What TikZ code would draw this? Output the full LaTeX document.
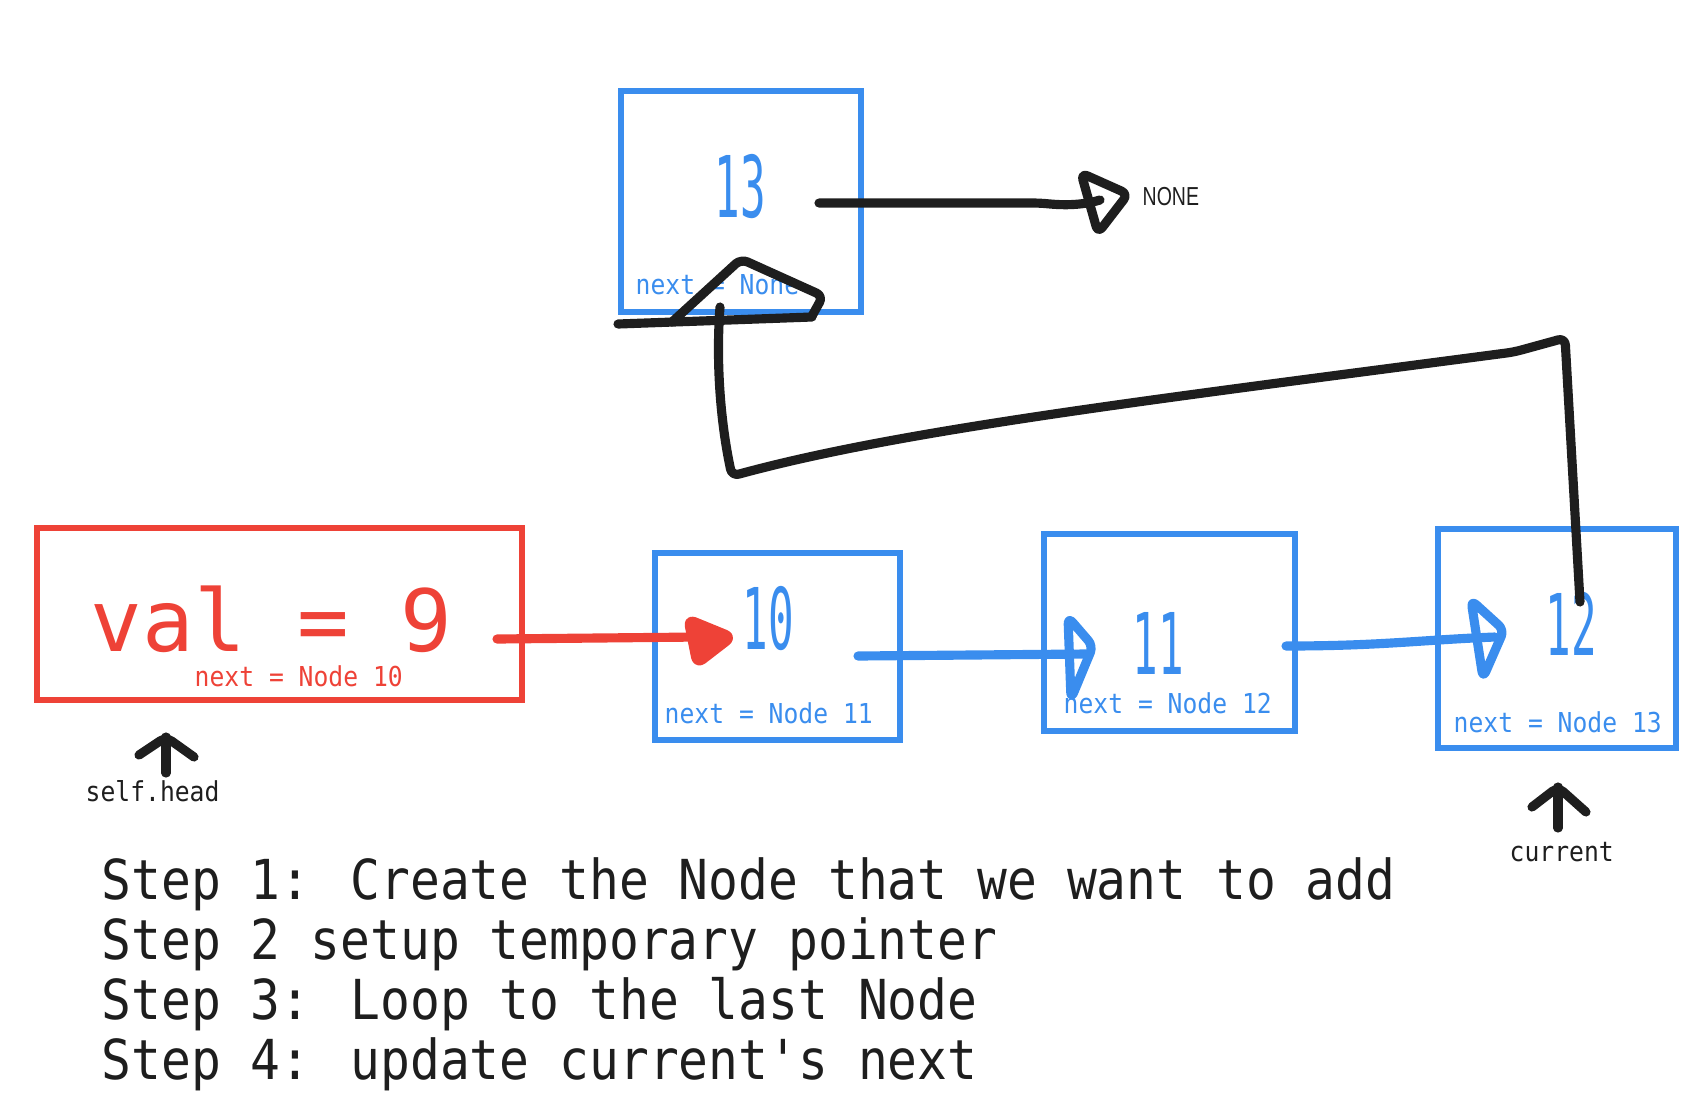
\documentclass[tikz,border=0pt]{standalone}
\usepackage{fontspec}
\usetikzlibrary{positioning, calc}
\newfontfamily\monofont[FakeStretch=0.9]{DejaVu Sans Mono}
\newfontfamily\digitfont[FakeStretch=0.5]{DejaVu Sans Mono}
\newfontfamily\valfont{DejaVu Sans Mono}
\newfontfamily\tagfont[FakeStretch=0.75]{Liberation Sans}
\definecolor{nodeblue}{HTML}{3A8DEE}
\definecolor{newred}{HTML}{EE4237}
\definecolor{ink}{HTML}{1E1E1E}

\tikzset{
  listbox/.style={draw=nodeblue, line width=1.6pt, inner sep=0pt},
  headbox/.style={draw=newred, line width=1.6pt, inner sep=0pt},
  digit/.style={text=nodeblue, inner sep=0pt, font=\fontsize{24.2}{28}\digitfont},
  nextlabel/.style={anchor=base west, inner sep=0pt, font=\fontsize{7.8}{9}\monofont},
  stroke/.style={line width=2.6pt, line cap=round, line join=round, rounded corners=2pt}
}

\begin{document}
\begin{tikzpicture}[x=0.01cm, y=-0.01cm]
  \useasboundingbox (0,0) rectangle (1708,1102);

  % the boxes
  \node[headbox, minimum width=4.85cm, minimum height=1.72cm] (node9) at (279.5,614) {};
  \node[listbox, minimum width=2.45cm, minimum height=1.87cm] (node10) at (777.5,646.5) {};
  \node[listbox, minimum width=2.51cm, minimum height=1.97cm] (node11) at (1169.5,632.5) {};
  \node[listbox, minimum width=2.38cm, minimum height=2.19cm] (node12) at (1557,638.5) {};
  \node[listbox, minimum width=2.40cm, minimum height=2.21cm] (node13) at (741,201.5) {};

  % values and next pointers
  \node[anchor=base west, inner sep=0pt, text=newred, font=\fontsize{24.4}{30}\valfont] (val9) at (90,651) {val = 9};
  \node[nextlabel, text=newred] (next9) at (194,686) {next = Node 10};
  \node[digit] (val10) at (768,619) {10};
  \node[nextlabel, text=nodeblue] (next10) at (664,723) {next = Node 11};
  \node[digit] (val11) at (1158,643) {11};
  \node[nextlabel, text=nodeblue] (next11) at (1063,713) {next = Node 12};
  \node[digit] (val12) at (1571,624) {12};
  \node[nextlabel, text=nodeblue] (next12) at (1453,732) {next = Node 13};
  \node[digit] (val13) at (740,187) {13};
  \node[nextlabel, text=nodeblue] (next13) at (635,294) {next = None};
  \node[anchor=west, inner sep=0pt, text=ink, font=\fontsize{7.4}{9}\tagfont] (none) at (1142,197) {NONE};

  % pointers
  \node[nextlabel, text=ink] (selfhead) at (85,801) {self.head};
  \node[nextlabel, text=ink] (current) at (1509,861) {current};
  \coordinate (headtip) at (166,737);
  \coordinate (currtip) at (1558,787);
  \draw[stroke, ink] (166,773) -- (headtip);
  \draw[stroke, ink] (139,755) -- (headtip) -- (194,757);
  \draw[stroke, ink] (1558,828) -- (currtip);
  \draw[stroke, ink] (1532,807) -- (currtip) -- (1586,812);

  % next links
  \coordinate (from9) at (497,639);
  \coordinate (tip9) at (732,637);
  \draw[stroke, newred] (from9) -- (700,637);
  \filldraw[stroke, newred] (tip9) -- ++(-44,-18) -- ++(9,45) -- cycle;

  \coordinate (from10) at (858,656);
  \coordinate (tip10) at (1093,646);
  \draw[stroke, nodeblue] (from10) -- (1086,654);
  \draw[stroke, nodeblue] (tip10) -- ++(-25,-29) -- ++(3,82) -- cycle;

  \coordinate (from11) at (1286,646);
  \coordinate (tip11) at (1504,630);
  \draw[stroke, nodeblue] (from11) .. controls (1380,646) and (1420,640) .. (1495,637);
  \draw[stroke, nodeblue] (tip11) -- ++(-33,-30) -- ++(12,78) -- cycle;

  \coordinate (from13) at (819,203);
  \coordinate (tip13) at (1128,194);
  \draw[stroke, ink] (from13) -- (1040,203) .. controls (1060,205) and (1080,206) .. (1100,200);
  \draw[stroke, ink] (tip13) -- ++(-47,-21) -- ++(17,60) -- cycle;

  % the new link from current to node 13
  \coordinate (hook12) at (1580,602);
  \coordinate (hook13) at (720,307);
  \draw[stroke, ink] (hook12) -- (1565,338) -- (1514,352)
    .. controls (1150,400) and (900,430) .. (732,476)
    .. controls (720,420) and (716,360) .. (hook13);
  \draw[stroke, ink] (618,324) -- (812,317);
  \draw[stroke, ink] (672,322) -- (741,259) -- (823,296) -- (812,316);

  % steps
  \foreach \txt [count=\i] in {Step 1: Create the Node that we want to add,
      Step 2 setup temporary pointer,
      Step 3: Loop to the last Node,
      Step 4: update current's next}
    \node[anchor=base west, inner sep=0pt, text=ink, font=\fontsize{15.67}{19}\monofont] (step\i) at (101,{899+60*(\i-1)}) {\txt};
\end{tikzpicture}
\end{document}
